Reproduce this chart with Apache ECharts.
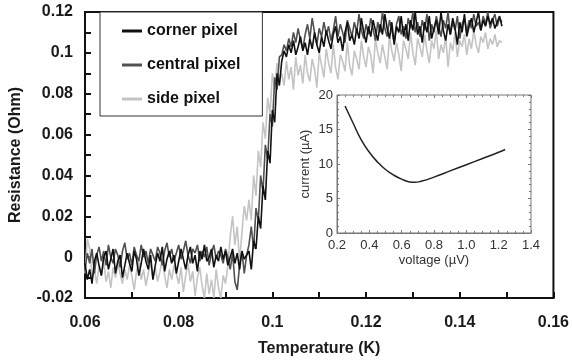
<!DOCTYPE html>
<html><head><meta charset="utf-8">
<script src="https://cdn.jsdelivr.net/npm/echarts@6/dist/echarts.min.js"></script>
<style>html,body{margin:0;padding:0;background:#fff}#c{width:572px;height:362px}</style>
</head><body><div id="c"></div>
<script>
var temps = [
0.060,0.0605,0.061,0.0615,0.062,0.0625,0.063,0.0635,0.064,0.0645,
0.065,0.0655,0.066,0.0665,0.067,0.0675,0.068,0.0685,0.069,0.0695,
0.070,0.0705,0.071,0.0715,0.072,0.0725,0.073,0.0735,0.074,0.0745,
0.075,0.0755,0.076,0.0765,0.077,0.0775,0.078,0.0785,0.079,0.0795,
0.080,0.0805,0.081,0.0815,0.082,0.0825,0.083,0.0835,0.084,0.0845,
0.085,0.0855,0.086,0.0865,0.087,0.0875,0.088,0.0885,0.089,0.0895,
0.090,0.0905,0.091,0.0915,0.092,0.0925,0.093,0.0935,0.094,0.0945,
0.095,0.0955,0.096,0.0965,0.097,0.0975,0.098,0.0985,0.099,0.0995,
0.100,0.1005,0.101,0.1015,0.102,0.1025,0.103,0.1035,0.104,0.1045,
0.105,0.1055,0.106,0.1065,0.107,0.1075,0.108,0.1085,0.109,0.1095,
0.110,0.1105,0.111,0.1115,0.112,0.1125,0.113,0.1135,0.114,0.1145,
0.115,0.1155,0.116,0.1165,0.117,0.1175,0.118,0.1185,0.119,0.1195,
0.120,0.1205,0.121,0.1215,0.122,0.1225,0.123,0.1235,0.124,0.1245,
0.125,0.1255,0.126,0.1265,0.127,0.1275,0.128,0.1285,0.129,0.1295,
0.130,0.1305,0.131,0.1315,0.132,0.1325,0.133,0.1335,0.134,0.1345,
0.135,0.1355,0.136,0.1365,0.137,0.1375,0.138,0.1385,0.139,0.1395,
0.140,0.1405,0.141,0.1415,0.142,0.1425,0.143,0.1435,0.144,0.1445,
0.145,0.1455,0.146,0.1465,0.147,0.1475,0.148,0.1485,0.149
];
var cornerPixel = [
-0.003,-0.011,-0.006,-0.013,-0.002,0.002,-0.004,-0.009,0.000,0.003,
-0.006,-0.001,0.004,-0.008,-0.002,0.001,-0.010,-0.004,0.002,-0.003,
-0.007,0.003,-0.001,-0.009,-0.003,0.004,-0.002,-0.006,0.001,-0.011,
-0.004,0.002,-0.002,0.005,-0.007,-0.001,0.003,-0.003,0.001,-0.008,
-0.002,0.004,-0.001,-0.006,0.001,0.005,-0.003,0.001,-0.007,0.003,
-0.001,0.006,-0.002,0.000,0.004,-0.005,0.001,-0.002,0.005,-0.001,
0.003,-0.004,0.000,0.004,-0.003,0.002,-0.006,0.003,-0.001,0.001,
0.003,-0.006,0.008,0.004,0.020,0.014,0.035,0.028,0.052,0.046,
0.072,0.066,0.090,0.084,
0.096,0.101,0.098,0.104,0.100,0.106,0.099,0.103,0.108,0.101,
0.105,0.099,0.107,0.102,0.110,0.104,0.100,0.108,0.103,0.111,
0.106,0.102,0.109,0.113,0.105,0.108,0.101,0.110,0.115,0.106,
0.109,0.104,0.112,0.107,0.117,0.110,0.105,0.113,0.108,0.116,
0.111,0.106,0.114,0.109,0.119,0.112,0.107,0.115,0.104,0.113,
0.110,0.118,0.108,0.114,0.106,0.116,0.111,0.120,0.109,0.113,
0.105,0.115,0.110,0.118,0.107,0.112,0.116,0.109,0.120,0.111,
0.106,0.114,0.109,0.117,0.112,0.104,0.115,0.110,0.119,0.108,
0.113,0.117,0.110,0.115,0.120,0.111,0.116,0.113,0.118,0.114,
0.117,0.112,0.115,0.118,0.113
];
var centralPixel = [
-0.006,0.002,-0.003,0.004,-0.008,0.001,0.005,-0.002,0.003,-0.004,
0.006,0.000,-0.003,0.004,0.001,-0.005,0.003,0.007,-0.001,0.002,
-0.004,0.005,0.001,-0.002,0.006,0.000,0.003,-0.003,0.004,0.001,
-0.002,0.005,0.002,-0.004,0.003,0.007,0.000,0.004,-0.002,0.002,
0.006,-0.001,0.003,0.008,0.001,-0.003,0.004,0.002,0.006,-0.002,
0.003,0.000,0.005,-0.004,0.002,0.006,-0.001,0.003,0.001,-0.003,
0.004,0.000,-0.006,0.002,-0.012,-0.016,-0.004,0.003,-0.008,0.001,
0.006,0.015,0.004,0.024,0.018,0.040,0.032,0.055,0.048,0.070,
0.064,0.088,0.082,0.098,
0.099,0.104,0.101,0.107,0.103,0.110,0.105,0.112,0.106,0.102,
0.109,0.114,0.107,0.117,0.110,0.104,0.112,0.108,0.115,0.109,
0.113,0.106,0.111,0.118,0.108,0.114,0.110,0.105,0.116,0.112,
0.108,0.115,0.110,0.119,0.111,0.107,0.114,0.109,0.117,0.112,
0.106,0.115,0.110,0.120,0.112,0.108,0.116,0.111,0.105,0.114,
0.118,0.109,0.113,0.107,0.117,0.112,0.120,0.110,0.115,0.108,
0.116,0.111,0.119,0.106,0.114,0.110,0.118,0.113,0.108,0.116,
0.112,0.120,0.109,0.115,0.111,0.118,0.107,0.114,0.117,0.110,
0.116,0.112,0.119,0.113,0.115,0.111,0.118,0.114,0.120,0.112,
0.116,0.119,0.113,0.117,0.115
];
var sidePixel = [
-0.008,0.009,0.004,-0.010,-0.006,-0.013,-0.004,-0.009,-0.002,-0.012,
-0.007,-0.015,-0.005,-0.010,-0.003,-0.008,-0.013,-0.006,-0.011,-0.004,
-0.009,-0.016,-0.007,-0.002,-0.011,-0.006,-0.014,-0.008,-0.003,-0.010,
-0.005,-0.012,-0.007,-0.001,-0.009,-0.015,-0.006,-0.011,-0.004,-0.008,
-0.013,-0.005,-0.017,-0.009,-0.003,-0.012,-0.007,-0.019,-0.010,-0.005,
-0.014,-0.020,-0.008,-0.018,-0.011,-0.020,-0.006,-0.015,-0.020,-0.009,
-0.013,-0.004,0.010,0.020,0.006,0.015,-0.002,0.012,0.025,0.018,
0.028,0.018,0.040,0.030,0.052,0.044,0.066,0.058,0.078,0.070,
0.090,0.082,0.095,0.086,
0.090,0.084,0.096,0.087,0.093,0.082,0.098,0.089,0.094,0.085,
0.099,0.090,0.086,0.097,0.092,0.083,0.100,0.094,0.088,0.102,
0.095,0.090,0.104,0.093,0.087,0.099,0.096,0.091,0.105,0.094,
0.089,0.101,0.097,0.092,0.106,0.098,0.093,0.103,0.099,0.090,
0.107,0.100,0.095,0.104,0.098,0.092,0.108,0.101,0.096,0.105,
0.099,0.091,0.106,0.102,0.097,0.110,0.100,0.094,0.107,0.103,
0.098,0.109,0.101,0.095,0.106,0.102,0.111,0.097,0.104,0.100,
0.108,0.093,0.105,0.101,0.110,0.098,0.106,0.103,0.109,0.099,
0.107,0.102,0.111,0.104,0.100,0.108,0.105,0.110,0.102,0.107,
0.104,0.109,0.103,0.106,0.105
];
var seriesNames = ['corner pixel','central pixel','side pixel'];
var voltage = [0.25,0.3,0.35,0.4,0.45,0.5,0.55,0.6,0.65,0.68,0.72,0.8,0.9,1.0,1.1,1.2,1.24];
var current = [18.4,15.9,13.5,11.7,10.3,9.2,8.4,7.8,7.4,7.35,7.5,8.1,9.0,9.9,10.8,11.7,12.1];

function pairs(xs, ys){ return xs.map(function(x,i){ return [x, ys[i]]; }); }

var FF = '"Liberation Sans", Arial, Helvetica, sans-serif';
var chart = echarts.init(document.getElementById('c'));
var bold = {fontFamily: FF, fontWeight: 'bold', fontSize: 16, color: '#1a1a1a'};
var reg = {fontFamily: FF, fontSize: 13, color: '#333'};
var minorInset = {color:'#777', width:1};
chart.setOption({
  animation: false,
  backgroundColor: '#fff',
  grid: [
    {left: 84, top: 12, right: 17, bottom: 64, show: true, borderColor: '#111', borderWidth: 2, backgroundColor: 'transparent'},
    {left: 337, top: 95, width: 194, height: 138, show: true, borderColor: '#777', borderWidth: 1, backgroundColor: '#fff'}
  ],
  legend: {
    orient: 'vertical', left: 100, top: 12,
    padding: [9, 22, 7, 22], itemGap: 14,
    itemWidth: 20, itemHeight: 3, icon: 'rect',
    borderColor: '#333', borderWidth: 1, backgroundColor: '#fff',
    data: seriesNames,
    textStyle: {fontFamily: FF, fontWeight: 'bold', fontSize: 16, color: '#111', lineHeight: 20}
  },
  xAxis: [
    {type: 'value', gridIndex: 0, min: 0.06, max: 0.16, interval: 0.02,
     name: 'Temperature (K)', nameLocation: 'middle', nameGap: 43, nameTextStyle: bold,
     axisLine: {show: true, onZero: false, lineStyle: {color: '#111', width: 2}},
     axisTick: {show: true, inside: true, length: 6, lineStyle: {color: '#111', width: 2}},
     minorTick: {show: true, splitNumber: 2, length: 6, lineStyle: {color: '#111', width: 2}},
     axisLabel: Object.assign({margin: 17}, bold),
     splitLine: {show: false}},
    {type: 'value', gridIndex: 1, min: 0.2, max: 1.4, interval: 0.2,
     name: 'voltage (\u00b5V)', nameLocation: 'middle', nameGap: 21, nameTextStyle: reg,
     axisLine: {show: true, onZero: false, lineStyle: {color: '#777', width: 1}},
     axisTick: {show: true, inside: true, length: 3, lineStyle: {color: '#777'}},
     minorTick: {show: true, splitNumber: 4, length: 2, lineStyle: minorInset},
     axisLabel: Object.assign({margin: 6, formatter: function(v){ return v.toFixed(1); }}, reg),
     splitLine: {show: false}},
    {type: 'value', gridIndex: 1, position: 'top', min: 0.2, max: 1.4, interval: 0.2,
     axisLine: {show: false, onZero: false},
     axisTick: {show: true, inside: true, length: 3, lineStyle: {color: '#777'}},
     minorTick: {show: true, splitNumber: 4, length: 2, lineStyle: minorInset},
     axisLabel: {show: false}, splitLine: {show: false}}
  ],
  yAxis: [
    {type: 'value', gridIndex: 0, min: -0.02, max: 0.12, interval: 0.02,
     name: 'Resistance (Ohm)', nameLocation: 'middle', nameGap: 61, nameTextStyle: bold,
     axisLine: {show: true, onZero: false, lineStyle: {color: '#111', width: 2}},
     axisTick: {show: true, inside: true, length: 6, lineStyle: {color: '#111', width: 2}},
     minorTick: {show: true, splitNumber: 2, length: 6, lineStyle: {color: '#111', width: 2}},
     axisLabel: Object.assign({margin: 12}, bold),
     splitLine: {show: false}},
    {type: 'value', gridIndex: 1, min: 0, max: 20, interval: 5,
     name: 'current (\u00b5A)', nameLocation: 'middle', nameGap: 25, nameTextStyle: reg,
     axisLine: {show: true, onZero: false, lineStyle: {color: '#777', width: 1}},
     axisTick: {show: true, inside: true, length: 3, lineStyle: {color: '#777'}},
     minorTick: {show: true, splitNumber: 5, length: 2, lineStyle: minorInset},
     axisLabel: Object.assign({margin: 4}, reg),
     splitLine: {show: false}},
    {type: 'value', gridIndex: 1, position: 'right', min: 0, max: 20, interval: 5,
     axisLine: {show: false, onZero: false},
     axisTick: {show: true, inside: true, length: 3, lineStyle: {color: '#777'}},
     minorTick: {show: true, splitNumber: 5, length: 2, lineStyle: minorInset},
     axisLabel: {show: false}, splitLine: {show: false}}
  ],
  series: [
    {name: seriesNames[2], type: 'line', xAxisIndex: 0, yAxisIndex: 0, showSymbol: false, symbol: 'none',
     data: pairs(temps, sidePixel), lineStyle: {color: '#c4c4c4', width: 1.6}, itemStyle: {color: '#c4c4c4'}, z: 2},
    {name: seriesNames[1], type: 'line', xAxisIndex: 0, yAxisIndex: 0, showSymbol: false, symbol: 'none',
     data: pairs(temps, centralPixel), lineStyle: {color: '#505050', width: 1.6}, itemStyle: {color: '#505050'}, z: 3},
    {name: seriesNames[0], type: 'line', xAxisIndex: 0, yAxisIndex: 0, showSymbol: false, symbol: 'none',
     data: pairs(temps, cornerPixel), lineStyle: {color: '#111', width: 1.6}, itemStyle: {color: '#111'}, z: 4},
    {name: 'inset', type: 'line', xAxisIndex: 1, yAxisIndex: 1, showSymbol: false, symbol: 'none', smooth: true,
     data: pairs(voltage, current), lineStyle: {color: '#222', width: 1.5}, z: 5}
  ]
});
</script></body></html>
